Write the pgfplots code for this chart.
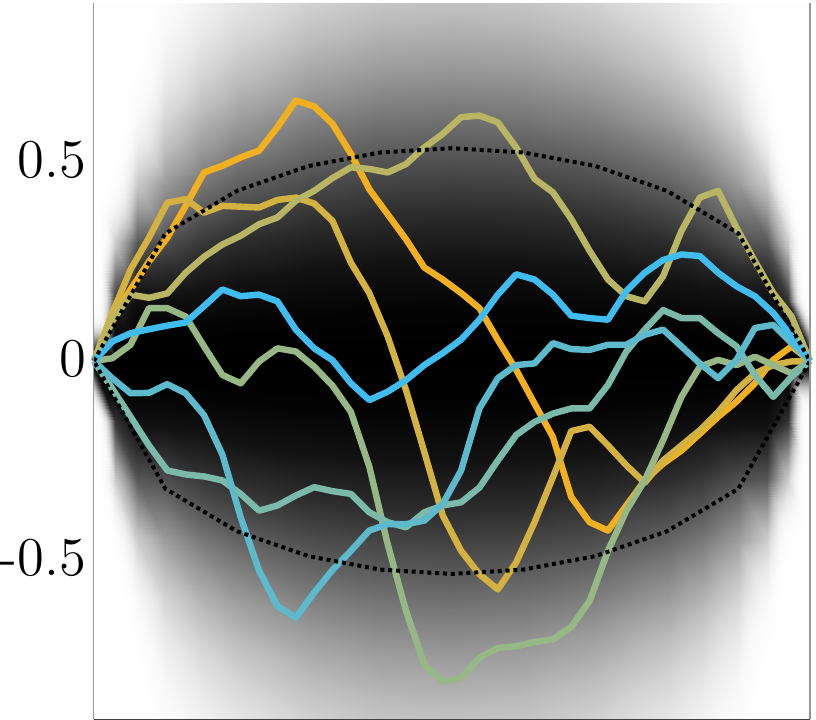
\documentclass[border=0pt]{standalone}
\usepackage{pgfplots}
\pgfplotsset{compat=1.18}
\definecolor{c1}{RGB}{240,176,32}
\definecolor{c2}{RGB}{211,178,66}
\definecolor{c3}{RGB}{184,182,100}
\definecolor{c4}{RGB}{152,183,135}
\definecolor{c5}{RGB}{123,185,170}
\definecolor{c6}{RGB}{93,186,204}
\definecolor{c7}{RGB}{64,188,238}
\definecolor{frameL}{RGB}{150,150,150}
\definecolor{frameB}{RGB}{64,64,64}
\begin{document}
\begin{tikzpicture}
\begin{axis}[
  scale only axis, width=178.25pt, height=178.25pt,
  xmin=0, xmax=39, ymin=-0.9, ymax=0.9,
  xtick=\empty, ytick={-0.5,0,0.5}, yticklabels={-0.5,0,0.5},
  major tick length=0pt,
  axis line style={draw=none},
  yticklabel style={font=\fontsize{13.6}{16}\selectfont, inner sep=0pt, xshift=-1.7pt, yshift=0.5pt},
  clip=false,
  colormap={bridge}{gray=(0) gray=(0.0129) gray=(0.0688) gray=(0.1725) gray=(0.3117) gray=(0.4653) gray=(0.6122) gray=(0.7374) gray=(0.8338) gray=(0.9016) gray=(0.9454) gray=(0.9716) gray=(0.9861) gray=(0.9936) gray=(0.995) gray=(0.995) gray=(0.995) gray=(0.995) gray=(0.995) gray=(0.995) gray=(0.995) gray=(0.995) gray=(0.995) gray=(0.995) gray=(0.995)},
  point meta min=0, point meta max=6,
  line join=round,
]
% background: bridge density shade, meta = |y|/sigma(t) (capped, softened at the ends)
\addplot[surf, shader=interp, mesh/cols=17, point meta=explicit] table[meta=c] {
x y c
0 -0.9 4
1.17 -0.9 4
2.34 -0.9 4
3.9 -0.9 3.0
5.85 -0.9 2.52
7.8 -0.9 2.25
11.7 -0.9 1.964
15.6 -0.9 1.837
19.5 -0.9 1.8
23.4 -0.9 1.837
27.3 -0.9 1.964
31.2 -0.9 2.25
33.15 -0.9 2.52
35.1 -0.9 3.0
36.66 -0.9 4
37.83 -0.9 4
39 -0.9 4
0 -0.75 4
1.17 -0.75 4
2.34 -0.75 3.5
3.9 -0.75 2.5
5.85 -0.75 2.1
7.8 -0.75 1.875
11.7 -0.75 1.636
15.6 -0.75 1.531
19.5 -0.75 1.5
23.4 -0.75 1.531
27.3 -0.75 1.636
31.2 -0.75 1.875
33.15 -0.75 2.1
35.1 -0.75 2.5
36.66 -0.75 3.5
37.83 -0.75 4
39 -0.75 4
0 -0.6 4
1.17 -0.6 4
2.34 -0.6 2.75
3.9 -0.6 2.0
5.85 -0.6 1.68
7.8 -0.6 1.5
11.7 -0.6 1.309
15.6 -0.6 1.225
19.5 -0.6 1.2
23.4 -0.6 1.225
27.3 -0.6 1.309
31.2 -0.6 1.5
33.15 -0.6 1.68
35.1 -0.6 2.0
36.66 -0.6 2.75
37.83 -0.6 4
39 -0.6 4
0 -0.45 4
1.17 -0.45 3.2
2.34 -0.45 1.9
3.9 -0.45 1.5
5.85 -0.45 1.26
7.8 -0.45 1.125
11.7 -0.45 0.982
15.6 -0.45 0.919
19.5 -0.45 0.9
23.4 -0.45 0.919
27.3 -0.45 0.982
31.2 -0.45 1.125
33.15 -0.45 1.26
35.1 -0.45 1.5
36.66 -0.45 1.9
37.83 -0.45 3.2
39 -0.45 4
0 -0.3 4
1.17 -0.3 1.9
2.34 -0.3 1.06
3.9 -0.3 1.0
5.85 -0.3 0.84
7.8 -0.3 0.75
11.7 -0.3 0.655
15.6 -0.3 0.612
19.5 -0.3 0.6
23.4 -0.3 0.612
27.3 -0.3 0.655
31.2 -0.3 0.75
33.15 -0.3 0.84
35.1 -0.3 1.0
36.66 -0.3 1.06
37.83 -0.3 1.9
39 -0.3 4
0 -0.15 4
1.17 -0.15 0.8
2.34 -0.15 0.45
3.9 -0.15 0.45
5.85 -0.15 0.42
7.8 -0.15 0.375
11.7 -0.15 0.327
15.6 -0.15 0.306
19.5 -0.15 0.3
23.4 -0.15 0.306
27.3 -0.15 0.327
31.2 -0.15 0.375
33.15 -0.15 0.42
35.1 -0.15 0.45
36.66 -0.15 0.45
37.83 -0.15 0.8
39 -0.15 4
0 0 0
1.17 0 0
2.34 0 0
3.9 0 0
5.85 0 0
7.8 0 0
11.7 0 0
15.6 0 0
19.5 0 0
23.4 0 0
27.3 0 0
31.2 0 0
33.15 0 0
35.1 0 0
36.66 0 0
37.83 0 0
39 0 0
0 0.15 4
1.17 0.15 0.8
2.34 0.15 0.45
3.9 0.15 0.45
5.85 0.15 0.42
7.8 0.15 0.375
11.7 0.15 0.327
15.6 0.15 0.306
19.5 0.15 0.3
23.4 0.15 0.306
27.3 0.15 0.327
31.2 0.15 0.375
33.15 0.15 0.42
35.1 0.15 0.45
36.66 0.15 0.45
37.83 0.15 0.8
39 0.15 4
0 0.3 4
1.17 0.3 1.9
2.34 0.3 1.06
3.9 0.3 1.0
5.85 0.3 0.84
7.8 0.3 0.75
11.7 0.3 0.655
15.6 0.3 0.612
19.5 0.3 0.6
23.4 0.3 0.612
27.3 0.3 0.655
31.2 0.3 0.75
33.15 0.3 0.84
35.1 0.3 1.0
36.66 0.3 1.06
37.83 0.3 1.9
39 0.3 4
0 0.45 4
1.17 0.45 3.2
2.34 0.45 1.9
3.9 0.45 1.5
5.85 0.45 1.26
7.8 0.45 1.125
11.7 0.45 0.982
15.6 0.45 0.919
19.5 0.45 0.9
23.4 0.45 0.919
27.3 0.45 0.982
31.2 0.45 1.125
33.15 0.45 1.26
35.1 0.45 1.5
36.66 0.45 1.9
37.83 0.45 3.2
39 0.45 4
0 0.6 4
1.17 0.6 4
2.34 0.6 2.75
3.9 0.6 2.0
5.85 0.6 1.68
7.8 0.6 1.5
11.7 0.6 1.309
15.6 0.6 1.225
19.5 0.6 1.2
23.4 0.6 1.225
27.3 0.6 1.309
31.2 0.6 1.5
33.15 0.6 1.68
35.1 0.6 2.0
36.66 0.6 2.75
37.83 0.6 4
39 0.6 4
0 0.75 4
1.17 0.75 4
2.34 0.75 3.5
3.9 0.75 2.5
5.85 0.75 2.1
7.8 0.75 1.875
11.7 0.75 1.636
15.6 0.75 1.531
19.5 0.75 1.5
23.4 0.75 1.531
27.3 0.75 1.636
31.2 0.75 1.875
33.15 0.75 2.1
35.1 0.75 2.5
36.66 0.75 3.5
37.83 0.75 4
39 0.75 4
0 0.9 4
1.17 0.9 4
2.34 0.9 4
3.9 0.9 3.0
5.85 0.9 2.52
7.8 0.9 2.25
11.7 0.9 1.964
15.6 0.9 1.837
19.5 0.9 1.8
23.4 0.9 1.837
27.3 0.9 1.964
31.2 0.9 2.25
33.15 0.9 2.52
35.1 0.9 3.0
36.66 0.9 4
37.83 0.9 4
39 0.9 4
};
% paths
\addplot[c1, line width=1.6pt] coordinates {(0,0) (1,0.11) (2,0.18) (3,0.25) (4,0.31) (5,0.39) (6,0.474) (7,0.491) (8,0.512) (9,0.529) (10,0.588) (11,0.655) (12,0.640) (13,0.596) (14,0.521) (15,0.432) (16,0.369) (17,0.306) (18,0.235) (19,0.205) (20,0.171) (21,0.133) (22,0.053) (23,-0.022) (24,-0.107) (25,-0.191) (26,-0.342) (27,-0.405) (28,-0.426) (29,-0.363) (30,-0.30) (31,-0.258) (32,-0.225) (33,-0.183) (34,-0.140) (35,-0.102) (36,-0.056) (37,0.003) (38,0.037) (39,0)};
\addplot[c2, line width=1.6pt] coordinates {(0,0) (1,0.12) (2,0.23) (3,0.31) (4,0.398) (5,0.407) (6,0.373) (7,0.390) (8,0.388) (9,0.386) (10,0.405) (11,0.411) (12,0.396) (13,0.352) (14,0.247) (15,0.171) (16,0.062) (17,-0.073) (18,-0.229) (19,-0.388) (20,-0.477) (21,-0.536) (22,-0.574) (23,-0.506) (24,-0.405) (25,-0.292) (26,-0.176) (27,-0.165) (28,-0.212) (29,-0.262) (30,-0.306) (31,-0.250) (32,-0.212) (33,-0.174) (34,-0.128) (35,-0.073) (36,-0.031) (37,-0.010) (38,-0.001) (39,0)};
\addplot[c3, line width=1.6pt] coordinates {(0,0) (1,0.10) (2,0.167) (3,0.159) (4,0.170) (5,0.222) (6,0.262) (7,0.293) (8,0.315) (9,0.344) (10,0.361) (11,0.403) (12,0.428) (13,0.46) (14,0.487) (15,0.483) (16,0.474) (17,0.495) (18,0.537) (19,0.571) (20,0.613) (21,0.617) (22,0.600) (23,0.537) (24,0.458) (25,0.424) (26,0.357) (27,0.277) (28,0.205) (29,0.163) (30,0.150) (31,0.213) (32,0.327) (33,0.411) (34,0.428) (35,0.335) (36,0.251) (37,0.171) (38,0.112) (39,0)};
\addplot[c4, line width=1.6pt] coordinates {(0,0) (1,0.007) (2,0.041) (3,0.133) (4,0.133) (5,0.112) (6,0.037) (7,-0.035) (8,-0.056) (9,-0.001) (10,0.032) (11,0.024) (12,-0.014) (13,-0.062) (14,-0.128) (15,-0.265) (16,-0.460) (17,-0.628) (18,-0.763) (19,-0.805) (20,-0.797) (21,-0.746) (22,-0.721) (23,-0.717) (24,-0.706) (25,-0.700) (26,-0.668) (27,-0.603) (28,-0.477) (29,-0.376) (30,-0.30) (31,-0.199) (32,-0.090) (33,-0.014) (34,0.003) (35,-0.010) (36,0.011) (37,-0.010) (38,-0.031) (39,0)};
\addplot[c5, line width=1.6pt] coordinates {(0,0) (1,-0.069) (2,-0.140) (3,-0.212) (4,-0.275) (5,-0.285) (6,-0.290) (7,-0.300) (8,-0.334) (9,-0.376) (10,-0.363) (11,-0.338) (12,-0.317) (13,-0.327) (14,-0.334) (15,-0.380) (16,-0.405) (17,-0.418) (18,-0.380) (19,-0.363) (20,-0.355) (21,-0.318) (22,-0.250) (23,-0.186) (24,-0.153) (25,-0.132) (26,-0.119) (27,-0.119) (28,-0.060) (29,0.024) (30,0.079) (31,0.128) (32,0.108) (33,0.108) (34,0.070) (35,0.037) (36,-0.035) (37,-0.090) (38,-0.039) (39,0)};
\addplot[c6, line width=1.6pt] coordinates {(0,0) (1,-0.043) (2,-0.081) (3,-0.080) (4,-0.058) (5,-0.081) (6,-0.136) (7,-0.235) (8,-0.393) (9,-0.527) (10,-0.616) (11,-0.645) (12,-0.582) (13,-0.525) (14,-0.477) (15,-0.426) (16,-0.410) (17,-0.410) (18,-0.401) (19,-0.359) (20,-0.275) (21,-0.119) (22,-0.043) (23,-0.010) (24,-0.006) (25,0.045) (26,0.030) (27,0.028) (28,0.041) (29,0.041) (30,0.066) (31,0.079) (32,0.037) (33,-0.006) (34,-0.043) (35,0.003) (36,0.083) (37,0.091) (38,0.045) (39,0)};
\addplot[c7, line width=1.6pt] coordinates {(0,0) (1,0.049) (2,0.070) (3,0.080) (4,0.089) (5,0.097) (6,0.138) (7,0.180) (8,0.163) (9,0.167) (10,0.150) (11,0.079) (12,0.032) (13,0.002) (14,-0.056) (15,-0.098) (16,-0.077) (17,-0.048) (18,-0.010) (19,0.020) (20,0.054) (21,0.104) (22,0.167) (23,0.218) (24,0.205) (25,0.167) (26,0.114) (27,0.108) (28,0.104) (29,0.176) (30,0.222) (31,0.254) (32,0.268) (33,0.264) (34,0.222) (35,0.188) (36,0.163) (37,0.121) (38,0.062) (39,0)};
% dotted envelope
\addplot[black, line width=1pt, dash pattern=on 1pt off 0.95pt] coordinates {(0,0) (3.9,0.321) (7.8,0.428) (11.7,0.4904) (15.6,0.5242) (19.5,0.535) (23.4,0.5242) (27.3,0.4904) (31.2,0.428) (35.1,0.321) (39,0) (35.1,-0.321) (31.2,-0.428) (27.3,-0.4904) (23.4,-0.5242) (19.5,-0.535) (15.6,-0.5242) (11.7,-0.4904) (7.8,-0.428) (3.9,-0.321) (0,0)};
% frame
\draw[frameL, line width=0.3pt] (rel axis cs:0,0) -- (rel axis cs:0,1);
\draw[frameL, line width=0.3pt] (rel axis cs:1,0) -- (rel axis cs:1,1);
\draw[frameB, line width=0.3pt] (rel axis cs:0,0) -- (rel axis cs:1,0);
\path (rel axis cs:1,1) ++(1.5pt,0.75pt) coordinate (tr);
\path (rel axis cs:0,0) ++(0,-0.75pt) coordinate (bl);
\path (tr) (bl);
\end{axis}
\end{tikzpicture}
\end{document}
